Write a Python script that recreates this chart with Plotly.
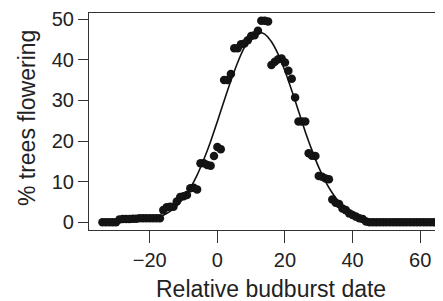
import plotly.graph_objects as go

# Observed data: relative budburst date (days) and % trees flowering
rel_date = list(range(-34, 66))
pct_flowering = [
    0, 0, 0, 0, 0,
    0.7, 0.8, 0.8, 0.8, 0.9, 0.9, 1.0, 1.0, 1.0, 1.0, 1.0, 1.0, 1.0,
    3.0, 3.7, 3.8, 3.8, 5.1, 6.2, 6.4, 6.7, 8.4, 8.5, 8.1,
    14.5, 14.5, 14.1, 13.9, 16.3, 18.5, 18.0,
    35.0, 35.0, 36.5, 42.8, 42.8, 43.8, 44.0, 44.8, 45.8, 46.0, 47.1, 49.6, 49.6, 49.4,
    38.7, 39.5, 40.1, 40.3, 39.3, 37.3, 35.3, 30.7, 24.8, 24.8, 24.8, 17.0, 16.4, 16.3,
    11.4, 11.2, 10.8, 10.6, 5.6, 4.8, 4.5, 3.4, 3.0, 2.2, 1.8, 1.4, 1.0, 0.8, 0.2,
    0, 0, 0, 0, 0, 0, 0, 0, 0, 0, 0, 0, 0, 0, 0, 0, 0, 0, 0, 0, 0,
]

# Fitted curve
fit_x = [-34, -30, -26, -22, -20, -18, -16, -14, -12, -10, -8, -6, -4, -2, 0, 2, 4, 6, 8, 10,
         12, 12.5, 14, 16, 18, 20, 22, 24, 26, 28, 30, 32, 34, 36, 38, 40, 44, 48, 52, 58, 65]
fit_y = [0.0, 0.03, 0.11, 0.37, 0.64, 1.07, 1.72, 2.70, 4.08, 6.0, 8.46, 11.6, 15.5, 19.9, 24.8,
         29.9, 34.8, 39.3, 43.0, 45.5, 46.65, 46.7, 46.3, 44.4, 41.3, 37.2, 32.4, 27.4, 22.3, 17.7,
         13.5, 10.0, 7.2, 4.97, 3.33, 2.16, 0.83, 0.28, 0.08, 0.01, 0.0]

x_ticks = [-20, 0, 20, 40, 60]
y_ticks = [0, 10, 20, 30, 40, 50]

x_title = "Relative budburst date"
y_title = "% trees flowering"

FONT = "Liberation Sans, Arial, Helvetica, sans-serif"
INK = "#222222"

fig = go.Figure()
fig.add_trace(go.Scatter(
    x=rel_date, y=pct_flowering, mode="markers",
    marker=dict(size=8.5, color="#141414", line=dict(width=0)),
    showlegend=False,
))
fig.add_trace(go.Scatter(
    x=fit_x, y=fit_y, mode="lines",
    line=dict(color="#111111", width=1.6, shape="spline", smoothing=0.8),
    showlegend=False,
))

# page body has an 8px default margin, so the figure is sized to fit inside it
fig.update_layout(
    width=435, height=293,
    margin=dict(l=81, r=0, t=5, b=71),
    paper_bgcolor="white", plot_bgcolor="white",
    font=dict(family=FONT, size=20, color=INK),
    annotations=[
        dict(text=x_title, xref="paper", yref="paper", x=0.514, y=-0.272,
             xanchor="center", yanchor="middle", showarrow=False,
             font=dict(size=23, family=FONT, color=INK)),
        dict(text=y_title, xref="paper", yref="paper", x=-0.175, y=0.516,
             xanchor="center", yanchor="middle", showarrow=False, textangle=-90,
             font=dict(size=23, family=FONT, color=INK)),
    ],
)
fig.update_xaxes(
    range=[-37.98, 66.75], tickvals=x_ticks, automargin=False,
    showgrid=False, zeroline=False,
    showline=True, linecolor="#333333", linewidth=1.2, mirror=True,
    ticks="outside", ticklen=12, tickwidth=1.2, tickcolor="#333333",
    tickfont=dict(size=20, family=FONT, color=INK),
)
fig.update_yaxes(
    range=[-1.89, 51.48], tickvals=y_ticks, automargin=False,
    showgrid=False, zeroline=False,
    showline=True, linecolor="#333333", linewidth=1.2, mirror=False,
    ticks="outside", ticklen=10, tickwidth=1.2, tickcolor="#333333",
    tickfont=dict(size=20, family=FONT, color=INK),
)

fig.write_html("out.html")
